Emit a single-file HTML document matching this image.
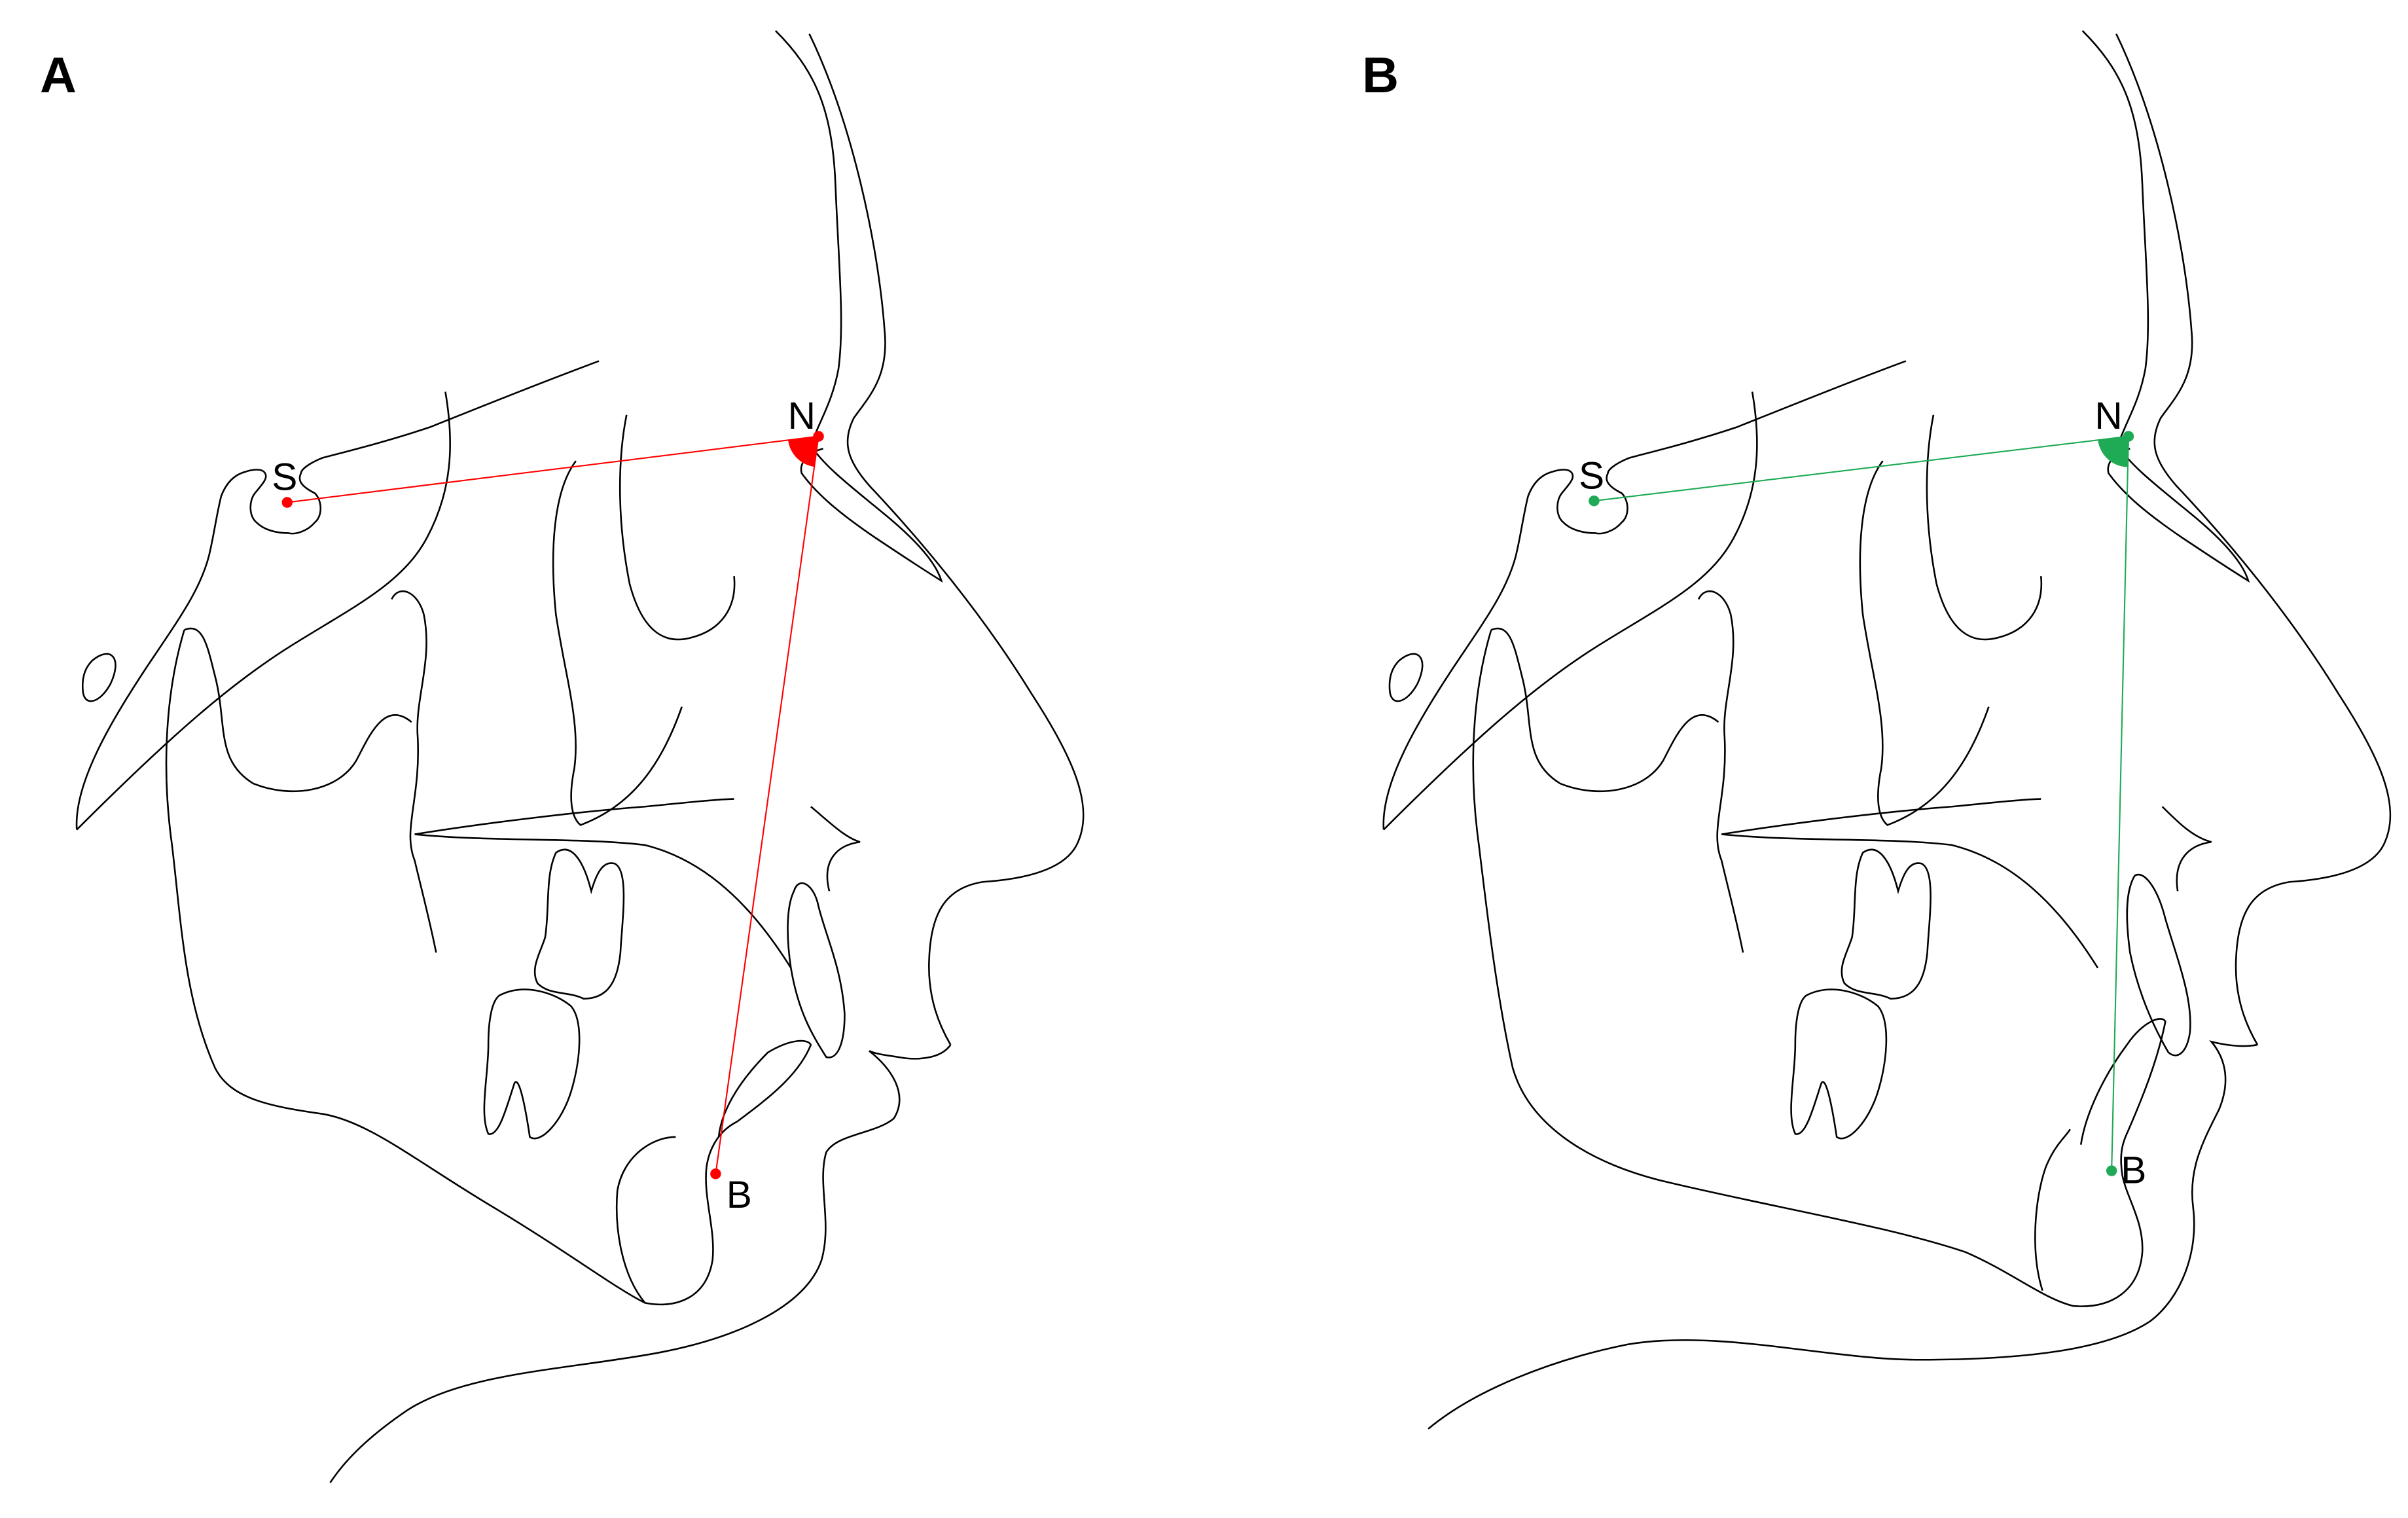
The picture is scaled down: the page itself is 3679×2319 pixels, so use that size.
<!DOCTYPE html>
<html><head><meta charset="utf-8"><style>
html,body{margin:0;padding:0;background:#fff;width:3679px;height:2319px;overflow:hidden}
svg{display:block}
text{font-family:"Liberation Sans",sans-serif}
</style></head><body>
<svg width="3679" height="2319" viewBox="0 0 1568 988" preserveAspectRatio="none" xmlns="http://www.w3.org/2000/svg">
<defs>
<g id="upper" fill="none" stroke="#000" stroke-width="1.1">
  <path d="M527,22 C555,80 572,160 576,215 C579,245 566,258 556,272 C548,288 552,300 566,316 C600,352 640,400 672,452 C700,495 712,525 702,548 C695,565 670,572 640,574 C615,578 606,595 605,625 C604,650 612,668 619,680"/>
  <path d="M505,20 C530,45 542,70 544,120 C546,170 550,210 546,240 C542,262 533,275 528,290 C538,305 556,318 580,338 C600,355 610,368 613,378 C600,370 585,360 570,350 C548,335 532,322 522,308 C520,300 528,294 536,292"/>
  <!-- sella -->
  <path d="M390,235 C355,248 320,262 280,278 C250,288 225,294 210,298 C200,302 196,306 196,308 C194,312 195,316 205,321 C210,326 210,336 205,340 C200,346 192,348 188,347 C180,347 172,345 167,340 C162,336 162,326 166,321 C170,316 174,312 173,309 C172,305 166,305 160,307 C152,309 147,315 144,323 C141,335 139,350 136,362"/>
  <path d="M290,255 C296,290 294,320 278,350 C262,380 230,395 190,420 C150,445 110,480 50,540"/>
  <path d="M50,540 C48,510 72,470 95,435 C115,405 130,385 136,362"/>
  <path d="M60,430 C72,420 80,428 72,445 C65,458 55,460 54,450 C53,440 56,434 60,430 Z"/>
  <path d="M255,390 C260,380 272,385 276,400 C282,430 270,455 272,480 C274,520 262,540 270,560 C276,585 280,600 284,620"/>
  <path d="M268,470 C250,455 240,480 232,495 C220,515 190,520 165,510 C140,495 148,470 140,440 C135,420 132,405 120,410"/>
  <path d="M375,300 C360,320 358,360 362,400 C368,440 378,470 374,500 C370,520 372,532 378,537 C410,525 430,500 444,460"/>
  <path d="M408,270 C402,300 402,340 410,380 C418,410 432,420 450,415 C470,410 480,395 478,375"/>
  <path d="M270,543 C320,535 380,528 420,525 C450,522 470,520 478,520"/>
  <path d="M270,543 C320,548 380,545 420,550 C460,560 490,590 515,630"/>
  <path d="M362,555 C372,548 380,560 385,580 C388,570 392,560 400,562 C410,566 405,600 404,620 C402,640 395,650 380,650 C370,645 358,648 350,640 C345,630 352,620 355,610 C358,590 355,570 362,555 Z"/>
  <path d="M325,648 C340,640 360,645 372,655 C380,665 378,690 372,710 C366,730 352,745 345,740 C342,720 338,700 335,705 C330,720 325,740 318,738 C312,725 318,700 318,680 C318,665 320,652 325,648 Z"/>
</g>
</defs>

<!-- Panel A -->
<use href="#upper"/>
<g fill="none" stroke="#000" stroke-width="1.1">
  <path d="M619,680 C612,690 595,690 585,688 C578,687 570,686 566,684 C580,695 592,712 582,728 C570,738 545,738 538,750 C532,770 542,795 535,820 C525,850 480,872 420,882 C360,892 300,895 265,918 C240,935 225,950 215,965"/>
  <path d="M120,410 C108,450 105,500 112,550 C118,600 120,650 140,695 C150,715 175,720 210,725 C240,730 270,755 320,785 C370,815 400,838 420,848 C440,852 460,845 464,820 C466,800 458,780 460,760 C462,745 470,735 480,730"/>
  <path d="M420,848 C405,830 400,800 402,775 C406,752 425,740 440,740"/>
  <path d="M480,730 C500,715 520,700 528,680 C526,676 515,676 500,685 C485,700 470,720 468,740"/>
  <path d="M517,580 C520,570 530,575 533,590 C538,610 548,630 550,660 C550,680 545,690 538,688 C530,675 520,660 515,630 C512,610 512,590 517,580 Z"/>
  <path d="M528,525 C540,535 550,545 560,548 C545,550 535,560 540,580"/>
</g>
<g stroke="#ff0000" stroke-width="0.9" fill="none">
  <line x1="187" y1="327" x2="533" y2="284"/>
  <line x1="533" y1="284" x2="466" y2="764"/>
</g>
<path d="M533,284 L513.2,286.5 A20,20 0 0 0 530.2,303.8 Z" fill="#ff0000"/>
<circle cx="187" cy="327" r="3.5" fill="#ff0000"/>
<circle cx="533" cy="284" r="3.5" fill="#ff0000"/>
<circle cx="466" cy="764" r="3.5" fill="#ff0000"/>
<text x="177" y="319" font-size="25">S</text>
<text x="513" y="279" font-size="25">N</text>
<text x="473" y="786" font-size="25">B</text>
<text x="26" y="60" font-size="33" font-weight="bold">A</text>

<!-- Panel B -->
<use href="#upper" transform="translate(851,0)"/>
<g fill="none" stroke="#000" stroke-width="1.1">
  <path d="M1470,680 C1460,682 1448,680 1440,678 C1450,690 1452,705 1445,722 C1435,742 1425,760 1428,785 C1432,815 1420,845 1400,860 C1370,880 1310,885 1250,885 C1190,885 1120,865 1060,875 C1010,885 960,905 930,930"/>
  <path d="M971,410 C959,450 956,500 963,550 C969,600 975,650 985,695 C995,730 1030,755 1080,768 C1150,785 1230,798 1280,815 C1310,828 1330,845 1350,850 C1375,852 1393,840 1395,815 C1396,795 1385,780 1382,765 C1380,752 1382,745 1384,740"/>
  <path d="M1330,840 C1322,815 1325,780 1332,760 C1338,745 1345,740 1348,735"/>
  <path d="M1384,740 C1395,715 1405,690 1410,665 C1408,660 1395,665 1385,680 C1370,700 1358,725 1355,745"/>
  <path d="M1390,570 C1396,566 1405,578 1410,598 C1418,625 1428,650 1426,672 C1424,685 1418,690 1412,685 C1402,668 1392,645 1387,620 C1384,598 1384,580 1390,570 Z"/>
  <path d="M1408,525 C1418,535 1428,545 1440,548 C1425,550 1415,560 1418,580"/>
</g>
<g stroke="#1faa55" stroke-width="0.9" fill="none">
  <line x1="1038" y1="326" x2="1386" y2="284"/>
  <line x1="1386" y1="284" x2="1375" y2="762"/>
</g>
<path d="M1386,284 L1366.1,286.4 A20,20 0 0 0 1385.5,304 Z" fill="#1faa55"/>
<circle cx="1038" cy="326" r="3.5" fill="#1faa55"/>
<circle cx="1386" cy="284" r="3.5" fill="#1faa55"/>
<circle cx="1375" cy="762" r="3.5" fill="#1faa55"/>
<text x="1028" y="318" font-size="25">S</text>
<text x="1364" y="279" font-size="25">N</text>
<text x="1381" y="770" font-size="25">B</text>
<text x="887" y="60" font-size="33" font-weight="bold">B</text>
</svg>
</body></html>
